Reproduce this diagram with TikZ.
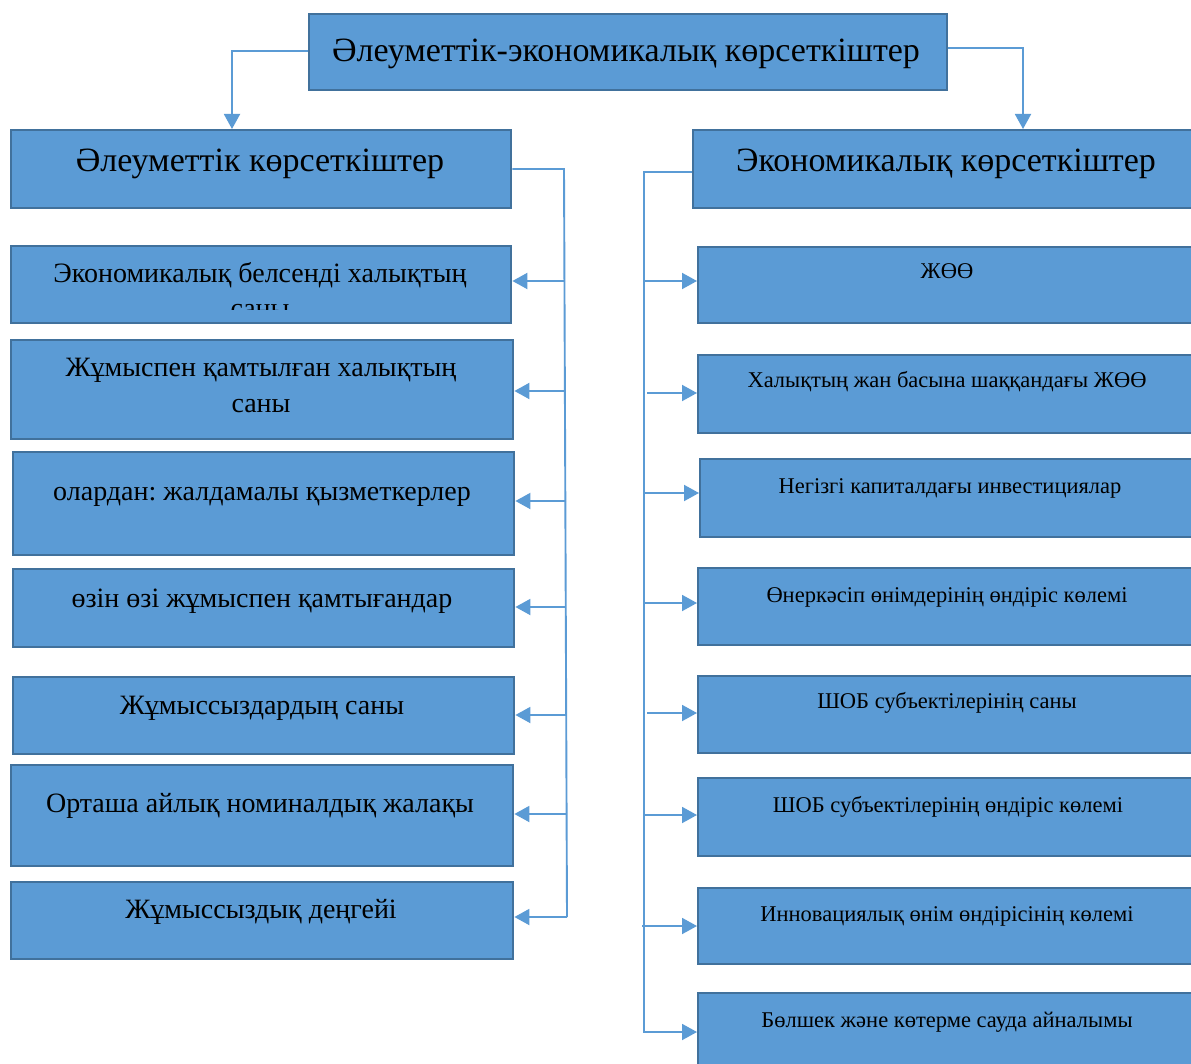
\documentclass[tikz,border=0pt]{standalone}
\usepackage{fontspec}
\setmainfont{Liberation Serif}
\frenchspacing
\usetikzlibrary{arrows.meta}
\definecolor{boxfill}{HTML}{5B9BD5}
\definecolor{boxline}{HTML}{41719C}
\definecolor{conncol}{HTML}{5B9BD5}
\tikzset{
  box/.style={draw=boxline, fill=boxfill, line width=2.4pt, rectangle, anchor=north west, inner sep=0pt},
  hdrtxt/.style={anchor=base, inner sep=0pt, font=\fontsize{34}{40}\selectfont},
  ltxt/.style={anchor=base, inner sep=0pt, font=\fontsize{28}{35}\selectfont},
  rtxt/.style={anchor=base, inner sep=0pt, font=\fontsize{22.5}{27}\selectfont},
  conn/.style={draw=conncol, line width=1.9pt},
  arr/.style={conn, -{Triangle[length=15pt, width=16pt]}}
}
\begin{document}
\begin{tikzpicture}[x=1pt,y=-1pt]
\clip (0,0) rectangle (1191,1064);
\fill[white] (0,0) rectangle (1191,1064);
% top
\node[box, minimum width=638pt, minimum height=76pt] (top) at (308,13) {};
\node[hdrtxt] (topt) at (626,62) {Әлеуметтік-экономикалық көрсеткіштер};
% headers
\node[box, minimum width=500pt, minimum height=78pt] (lh) at (10,129) {};
\node[hdrtxt] (lht) at (260,172) {Әлеуметтік көрсеткіштер};
\node[box, minimum width=520pt, minimum height=78pt] (rh) at (692,129) {};
\node[hdrtxt] (rht) at (946,172) {Экономикалық көрсеткіштер};
% top connectors
\coordinate (tl) at (232,51);
\coordinate (tr) at (1023,48);
\draw[arr] (top.west |- tl) -- (tl) -- (tl |- lh.north);
\draw[arr] (top.east |- tr) -- (tr) -- (tr |- rh.north);
% left boxes
\node[box, minimum width=500pt, minimum height=77pt] (l1) at (10,245) {};
\begin{scope}
\clip (10,245) rectangle (510,310);
\node[ltxt] (l1t) at (260,283) {Экономикалық белсенді халықтың};
\node[ltxt] (l1u) at (260,318) {саны};
\end{scope}
\node[box, minimum width=502pt, minimum height=99pt] (l2) at (10,339) {};
\node[ltxt] (l2t) at (261,377) {Жұмыспен қамтылған халықтың};
\node[ltxt] (l2u) at (261,412) {саны};
\node[box, minimum width=501pt, minimum height=103pt] (l3) at (12,451) {};
\node[ltxt] (l3t) at (262,500) {олардан: жалдамалы қызметкерлер};
\node[box, minimum width=501pt, minimum height=78pt] (l4) at (12,568) {};
\node[ltxt] (l4t) at (262,607) {өзін өзі жұмыспен қамтығандар};
\node[box, minimum width=501pt, minimum height=77pt] (l5) at (12,676) {};
\node[ltxt] (l5t) at (262,714) {Жұмыссыздардың саны};
\node[box, minimum width=502pt, minimum height=101pt] (l6) at (10,764) {};
\node[ltxt] (l6t) at (260,812) {Орташа айлық номиналдық жалақы};
\node[box, minimum width=502pt, minimum height=77pt] (l7) at (10,881) {};
\node[ltxt] (l7t) at (261,918) {Жұмыссыздық деңгейі};
% left bus
\coordinate (lb0) at (564,169);
\coordinate (lb1) at (565,281);
\coordinate (lb2) at (565,391);
\coordinate (lb3) at (566,501);
\coordinate (lb4) at (566,607);
\coordinate (lb5) at (566,715);
\coordinate (lb6) at (567,814);
\coordinate (lb7) at (567,917);
\draw[conn] (lh.east |- lb0) -- (lb0) -- (lb7);
\draw[arr] (lb1) -- (l1.east |- lb1);
\draw[arr] (lb2) -- (l2.east |- lb2);
\draw[arr] (lb3) -- (l3.east |- lb3);
\draw[arr] (lb4) -- (l4.east |- lb4);
\draw[arr] (lb5) -- (l5.east |- lb5);
\draw[arr] (lb6) -- (l6.east |- lb6);
\draw[arr] (lb7) -- (l7.east |- lb7);
% right boxes
\node[box, minimum width=520pt, minimum height=76pt] (r1) at (697,246) {};
\node[rtxt] (r1t) at (947,279) {ЖӨӨ};
\node[box, minimum width=520pt, minimum height=78pt] (r2) at (697,354) {};
\node[rtxt] (r2t) at (947,388) {Халықтың жан басына шаққандағы ЖӨӨ};
\node[box, minimum width=520pt, minimum height=78pt] (r3) at (699,458) {};
\node[rtxt] (r3t) at (950,493) {Негізгі капиталдағы инвестициялар};
\node[box, minimum width=520pt, minimum height=77pt] (r4) at (697,567) {};
\node[rtxt] (r4t) at (947,602) {Өнеркәсіп өнімдерінің өндіріс көлемі};
\node[box, minimum width=520pt, minimum height=77pt] (r5) at (697,675) {};
\node[rtxt] (r5t) at (947,708) {ШОБ субъектілерінің саны};
\node[box, minimum width=520pt, minimum height=78pt] (r6) at (697,777) {};
\node[rtxt] (r6t) at (948,812) {ШОБ субъектілерінің өндіріс көлемі};
\node[box, minimum width=520pt, minimum height=76pt] (r7) at (697,887) {};
\node[rtxt] (r7t) at (947,921) {Инновациялық өнім өндірісінің көлемі};
\node[box, minimum width=520pt, minimum height=90pt] (r8) at (697,992) {};
\node[rtxt] (r8t) at (947,1027) {Бөлшек және көтерме сауда айналымы};
% right bus
\coordinate (rb0) at (644,172);
\coordinate (rb1) at (645,281);
\coordinate (rb2) at (647,393);
\coordinate (rb3) at (645,493);
\coordinate (rb4) at (645,603);
\coordinate (rb5) at (647,713);
\coordinate (rb6) at (645,815);
\coordinate (rb7) at (642,926);
\coordinate (rb8) at (645,1032);
\draw[conn] (rh.west |- rb0) -- (rb0) -- (rb0 |- rb8) -- (rb8);
\draw[arr] (rb1) -- (r1.west |- rb1);
\draw[arr] (rb2) -- (r2.west |- rb2);
\draw[arr] (rb3) -- (r3.west |- rb3);
\draw[arr] (rb4) -- (r4.west |- rb4);
\draw[arr] (rb5) -- (r5.west |- rb5);
\draw[arr] (rb6) -- (r6.west |- rb6);
\draw[arr] (rb7) -- (r7.west |- rb7);
\draw[arr] (rb8) -- (r8.west |- rb8);
\end{tikzpicture}
\end{document}
